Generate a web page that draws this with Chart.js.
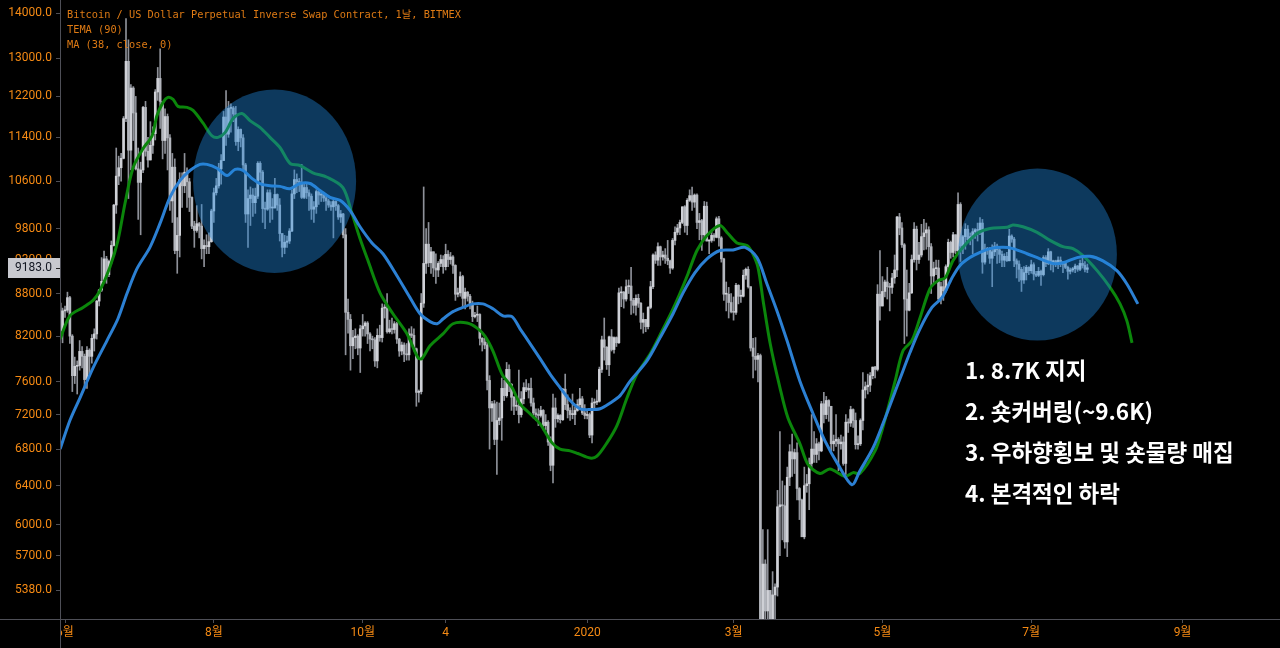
<!DOCTYPE html>
<html><head><meta charset="utf-8">
<script src="https://cdn.jsdelivr.net/npm/chart.js@4.4.1/dist/chart.umd.min.js"></script>
<style>html,body{margin:0;padding:0;background:#000;overflow:hidden}canvas{display:block}</style>
</head><body>
<canvas id="c" width="1280" height="648"></canvas>
<script>
// ---------- DATA ----------
// candle index 0 = 2019-05-30; x value = day offset from 2019-06-01
const firstCandleDay = -2;
const candleOpen = [
8660,8270,
8550,8560,8740,8200,7680,7800,7810,7995,7930,7630,8010,7930,8170,8230,8690,8850,8980,9320,9080,9280,9530,10190,10690,10840,11010,11760,12930,11160,12370,11870,
10820,10580,10800,11980,11140,10980,11250,11470,12290,12570,12100,11340,11800,11390,10260,10850,9450,9690,10630,10520,10760,10590,10320,9840,9770,9880,9840,9480,9530,9510,9590,
10090,10400,10520,10820,10970,11790,11460,11960,11970,11850,11320,11550,11390,10890,10040,10300,10360,10230,10340,10920,10760,10130,10120,10400,10140,10140,10370,10190,9720,9500,9580,
9600,9760,10380,10630,10590,10580,10320,10490,10400,10340,10120,10160,10420,10360,10370,10310,10260,10190,10160,10250,10180,9990,10040,9700,8530,8430,8070,8180,8200,8040,
8300,8340,8380,8230,8160,8150,7870,8210,8180,8590,8590,8260,8300,8290,8370,8160,8000,8080,7960,7950,8230,8210,8030,7470,7480,8660,9250,9550,9260,9430,9180,
9150,9250,9310,9200,9390,9310,9350,9220,8790,8810,9050,8730,8820,8760,8640,8470,8490,8500,8170,8120,8080,7620,7280,7330,6910,7130,7160,7520,7430,7760,
7570,7410,7300,7300,7200,7390,7530,7500,7520,7340,7220,7200,7190,7250,7070,7110,6880,6620,7280,7150,7190,7140,7510,7320,7250,7200,7200,7250,7320,7390,7220,
7190,7200,6960,7340,7350,7360,7760,8150,8050,7820,8190,8020,8180,8110,8810,8820,8720,8900,8910,8700,8630,8730,8660,8390,8430,8330,8600,8900,9380,9300,9510,
9350,9380,9330,9290,9180,9610,9740,9810,9900,10160,9850,10270,10350,10240,10360,9900,9930,9700,10170,9600,9610,9690,9660,9960,9650,9320,8790,8790,8670,
8540,8530,8920,8760,8760,9070,9160,8900,8040,7930,7890,7940,4860,5620,5200,5380,5000,5340,5410,6180,6200,6190,5830,6490,6770,6690,6760,6370,6250,5880,6400,
6420,6640,6800,6740,6860,6780,7330,7200,7370,7300,6860,6890,6910,6860,6880,6640,7110,7100,7260,7130,6850,6860,7130,7500,7540,7560,7680,7790,7760,8790,
8620,8830,8970,8900,8890,9030,9150,9990,9810,9540,8720,8560,8810,9310,9790,9310,9380,9670,9730,9780,9510,9060,9170,9180,8720,8900,8840,9200,9580,9420,9700,
9450,10200,9520,9670,9790,9620,9670,9750,9780,9770,9890,9270,9470,9480,9330,9430,9520,9460,9390,9300,9360,9290,9680,9630,9290,9240,9160,9000,9110,9190,
9140,9230,9090,9070,9130,9080,9340,9250,9430,9240,9290,9240,9300,9240,9260,9190,9130,9150,9170,9210,9160,9250,9220,9160
];
const candleHigh = [
9090,8590,
8620,8820,8760,8220,7920,7870,8140,8060,7960,8060,8030,8220,8300,8700,8860,9340,9440,9360,9300,9600,10200,11200,11050,11100,11800,13880,13400,12440,12400,12200,
11200,10940,12000,12100,11400,11700,11600,12340,12800,13200,12100,11950,11850,11450,11100,11000,9980,10750,10750,11100,10840,10650,10330,9920,10180,9900,10200,9620,9700,9730,10120,
10480,10650,10920,11080,11900,12320,12100,12050,12000,12000,11600,11560,11450,10920,10450,10500,10470,10480,10950,10950,10790,10240,10450,10450,10300,10650,10380,10300,9720,9690,9680,
9800,10450,10800,10730,10650,10900,10550,10580,10450,10380,10250,10450,10450,10420,10380,10350,10290,10250,10300,10260,10200,10100,10050,9800,8720,8500,8280,8300,8220,8350,
8500,8400,8400,8250,8200,8180,8300,8350,8650,8640,8800,8420,8450,8400,8390,8170,8120,8110,8100,8300,8330,8300,8040,7500,8800,10500,9800,9900,9500,9430,9400,
9280,9380,9370,9550,9450,9420,9370,9230,8880,9120,9070,8880,8830,8790,8690,8530,8620,8510,8180,8200,8120,7680,7360,7370,7350,7340,7650,7620,7850,7820,
7580,7420,7420,7750,7480,7590,7630,7580,7650,7400,7270,7270,7300,7260,7200,7130,6940,7450,7400,7210,7200,7520,7700,7440,7280,7450,7290,7380,7520,7420,7320,
7260,7220,7400,7390,7500,7790,8200,8450,8060,8200,8290,8190,8190,8880,8900,8830,9000,9000,9190,8730,8780,8790,8670,8520,8430,8610,8980,9400,9430,9570,9520,
9440,9480,9610,9300,9640,9830,9870,9940,10160,10180,10300,10450,10500,10380,10380,10050,9950,10250,10240,9620,9760,9720,9990,10000,9670,9330,8970,8890,8800,
8750,8950,8930,8850,9150,9180,9200,8900,8170,8180,7970,7960,5950,5660,5950,5380,5550,5440,6350,7000,6450,6400,6600,6850,6970,6800,6870,6380,6260,6600,6520,
6700,7200,7000,6920,6880,7360,7470,7420,7380,7300,6960,7200,6930,6960,6940,7200,7150,7300,7270,7220,6950,7150,7720,7600,7700,7720,7790,7800,8930,9450,
9050,9000,9190,8950,9100,9380,10000,10050,9900,9560,9150,8950,9380,9900,9840,9580,9870,9950,9890,9830,9560,9270,9300,9300,8970,9020,9230,9630,9600,9740,9700,
10400,10230,9690,9880,9850,9730,9800,9800,9890,9980,9950,9550,9500,9500,9540,9580,9550,9480,9440,9400,9420,9790,9700,9660,9320,9290,9190,9200,9220,9200,
9300,9260,9130,9190,9150,9370,9370,9480,9440,9300,9300,9350,9350,9280,9270,9210,9180,9190,9240,9220,9300,9330,9280,9240
];
const candleLow = [
8000,8110,
8460,8530,8100,7480,7580,7450,7750,7780,7520,7520,7700,7840,8000,8160,8620,8830,8970,8950,9050,9250,9520,10050,10540,10600,11000,11700,10300,10800,11340,10800,
9950,9700,10750,11050,10850,10980,11100,11350,12120,11570,11000,11100,10800,10100,9900,9400,9100,9350,10150,10400,10150,10080,9800,9500,9740,9650,9320,9200,9400,9400,9580,
9900,10360,10480,10550,10970,11250,11400,11500,11700,11250,11150,11220,10800,9900,9500,9850,10000,10050,10300,10620,9900,9800,10100,9900,9950,10140,10100,9600,9350,9400,9500,
9560,9750,10300,10400,10420,10300,10300,10300,10100,9950,9900,10050,10200,10250,10250,10100,10150,10100,9650,10100,9950,9900,9650,7950,8240,7750,7900,8030,7950,7720,
8200,8200,8100,8000,8030,7800,7780,8130,8120,8450,8240,8240,8230,8240,8100,7930,7950,7860,7880,7880,8180,8000,7300,7350,7450,8600,9100,9200,9100,9050,8950,
9050,9200,9100,9150,9200,9240,9100,8700,8750,8760,8600,8580,8690,8580,8400,8450,8400,8080,8000,8030,7500,6800,7120,6850,6520,7080,6900,7370,7410,7480,
7250,7200,7250,7100,7170,7330,7480,7400,7300,7160,7130,7070,7170,7020,7020,6840,6560,6430,7050,7110,7100,7130,7260,7160,7130,7150,7080,7240,7290,7200,7150,
7150,6930,6870,7270,7320,7350,7720,7880,7760,7680,8000,7970,8060,8100,8610,8590,8690,8800,8500,8520,8490,8600,8300,8240,8260,8300,8580,8870,9250,9220,9220,
9300,9250,9230,9100,9160,9540,9700,9700,9880,9740,9700,10250,10100,10150,9800,9620,9450,9620,9600,9400,9580,9600,9650,9520,9270,8700,8550,8450,8520,
8420,8500,8650,8670,8750,9010,8880,8000,7650,7750,7600,4400,3600,5060,5120,4450,4950,5000,5330,5700,5850,5770,5690,6400,6500,6530,6250,6050,5880,5860,6330,
6150,6570,6650,6650,6680,6770,7100,7150,7120,6750,6780,6830,6560,6800,6620,6480,6990,7060,7050,6800,6800,6840,7020,7400,7450,7480,7640,7650,7740,8420,
8620,8750,8720,8550,8800,8950,9050,9700,9500,8100,8200,8550,8800,9270,9150,9250,9350,9460,9470,9300,8800,8950,9080,8700,8650,8700,8820,9110,9330,9350,9400,
9420,9280,9400,9470,9580,9540,9400,9640,9600,9700,9100,9240,9390,9250,8900,9370,9250,9260,9200,9200,9280,9290,9580,9200,9030,8980,8830,8950,9000,9080,
9100,9000,9050,9050,8920,9060,9200,9230,9150,9120,9200,9170,9200,9110,9170,9010,9090,9120,9110,9130,9140,9180,9120,9110
];
const candleClose = [
8270,8550,
8560,8740,8200,7680,7800,7810,7995,7930,7630,8010,7930,8170,8230,8690,8850,8980,9320,9080,9280,9530,10190,10690,10840,11010,11760,12930,11160,12370,11870,10820,
10580,10800,11980,11140,10980,11250,11470,12290,12570,12100,11340,11800,11390,10260,10850,9450,9690,10630,10520,10760,10590,10320,9840,9770,9880,9840,9480,9530,9510,9590,10090,
10400,10520,10820,10970,11790,11460,11960,11970,11850,11320,11550,11390,10890,10040,10300,10360,10230,10340,10920,10760,10130,10120,10400,10140,10140,10370,10190,9720,9500,9580,9600,
9760,10380,10630,10590,10580,10320,10490,10400,10340,10120,10160,10420,10360,10370,10310,10260,10190,10160,10250,10180,9990,10040,9700,8530,8430,8070,8180,8200,8040,8300,
8340,8380,8230,8160,8150,7870,8210,8180,8590,8590,8260,8300,8290,8370,8160,8000,8080,7960,7950,8230,8210,8030,7470,7480,8660,9250,9550,9260,9430,9180,9150,
9250,9310,9200,9390,9310,9350,9220,8790,8810,9050,8730,8820,8760,8640,8470,8490,8500,8170,8120,8080,7620,7280,7330,6910,7130,7160,7520,7430,7760,7570,
7410,7300,7300,7200,7390,7530,7500,7520,7340,7220,7200,7190,7250,7070,7110,6880,6620,7280,7150,7190,7140,7510,7320,7250,7200,7200,7250,7320,7390,7220,7190,
7200,6960,7340,7350,7360,7760,8150,8050,7820,8190,8020,8180,8110,8810,8820,8720,8900,8910,8700,8630,8730,8660,8390,8430,8330,8600,8900,9380,9300,9510,9350,
9380,9330,9290,9180,9610,9740,9810,9900,10160,9850,10270,10350,10240,10360,9900,9930,9700,10170,9600,9610,9690,9660,9960,9650,9320,8790,8790,8670,8540,
8530,8920,8760,8760,9070,9160,8900,8040,7930,7890,7940,4860,5620,5200,5380,5000,5340,5410,6180,6200,6190,5830,6490,6770,6690,6760,6370,6250,5880,6400,6420,
6640,6800,6740,6860,6780,7330,7200,7370,7300,6860,6890,6910,6860,6880,6640,7110,7100,7260,7130,6850,6860,7130,7500,7540,7560,7680,7790,7760,8790,8620,
8830,8970,8900,8890,9030,9150,9990,9810,9540,8720,8560,8810,9310,9790,9310,9380,9670,9730,9780,9510,9060,9170,9180,8720,8900,8840,9200,9580,9420,9700,9450,
10200,9520,9670,9790,9620,9670,9750,9780,9770,9890,9270,9470,9480,9330,9430,9520,9460,9390,9300,9360,9290,9680,9630,9290,9240,9160,9000,9110,9190,9140,
9230,9090,9070,9130,9080,9340,9250,9430,9240,9290,9240,9300,9240,9260,9190,9130,9150,9170,9210,9160,9250,9220,9160,9183
];

// TEMA (90) line (day offset, price)
const temaDays = [-2,2,7.4,11.5,14.3,18.4,21.7,24.6,27.9,32,35.7,37.7,40.2,42.2,44.3,46.3,50,52.5,56.6,60.2,62.7,65.6,68.9,72.5,75.8,79.9,84,88.1,92.2,96.3,101.6,107.4,113.9,117.6,120.9,124.2,129.1,134.4,140.2,144.7,146.3,149.6,154.9,159,164.8,168.9,172.1,175.4,179.1,183.2,186.5,190.6,194.7,199.6,202.9,207,210.2,215.2,218,222.1,226.2,230.3,234.4,239.8,244.7,248.8,252,255.3,259,263.1,268.4,271.7,275.4,279.5,281.6,284,286.1,289,293,296.3,301.2,304.5,309.4,313.5,319.7,323,325.8,332,334.8,340.2,343.4,347.1,350.4,354.5,357.8,360.7,363.9,368,373.8,379.1,386.1,388.5,392.6,398.4,403.7,409,413.1,417.2,423,428.3,432.4,435.2,437.3];
const temaValues = [8160,8480,8600,8700,8840,9190,9610,10220,10840,11190,11430,11820,12080,12180,12140,12000,11980,11920,11670,11430,11400,11490,11760,11860,11720,11590,11400,11210,10920,10880,10750,10670,10490,10050,9640,9290,8810,8510,8230,7910,7900,8070,8230,8370,8380,8310,8200,8000,7700,7530,7330,7210,7090,6870,6800,6780,6750,6700,6720,6870,7070,7400,7700,7960,8270,8550,8800,9090,9450,9690,9850,9720,9570,9530,9420,9190,8700,8100,7530,7160,6860,6630,6530,6580,6500,6540,6530,6780,7010,7610,8000,8140,8450,8870,8990,9030,9290,9500,9720,9800,9820,9860,9830,9740,9610,9510,9480,9370,9140,8890,8650,8410,8110];

// MA (38, close, 0) line
const maDays = [-2,2,6.1,11.5,17.2,21.7,25.4,29.5,34.8,38.9,43,47.1,51.2,55.3,58.2,62.3,66.4,69.7,73,76.6,79.9,84,88.1,92.2,96.3,100.4,104.5,108.6,112.7,116.8,120.9,125.8,130.3,136.1,141.4,145.5,149.6,152.5,155,159,163.1,167.2,171.3,175.4,179.5,183.2,186.5,190.6,194.7,198.8,202.9,207,211.1,215.2,219.3,223.4,227.5,231.6,238.5,243.9,249.2,253.3,258.2,263.1,268.4,273.8,278.7,283.6,287.7,291.8,295.9,301.2,306.6,311.5,316.8,322.5,325.8,331.1,335.2,342.2,346.3,350.4,355.3,359.4,363.5,366.8,370.9,375,379.1,384.4,388.5,394.3,399.6,404.9,409,414.8,420.1,425.4,431.1,435.2,439.7];
const maValues = [6800,7130,7400,7780,8140,8440,8800,9170,9500,9880,10320,10610,10790,10900,10900,10830,10700,10810,10790,10650,10560,10520,10510,10470,10560,10560,10440,10320,10270,10100,9830,9570,9400,9060,8740,8510,8400,8370,8440,8540,8600,8650,8650,8580,8480,8470,8300,8100,7900,7700,7530,7370,7270,7260,7270,7340,7430,7610,7870,8180,8510,8810,9110,9320,9450,9460,9500,9340,8940,8550,8140,7610,7210,6890,6630,6410,6560,6810,7090,7640,7980,8300,8600,8740,9030,9220,9340,9420,9480,9500,9480,9400,9320,9250,9260,9340,9360,9290,9140,8940,8650];

// axes
const xTickDays = [0, 61, 122, 156, 214, 274, 335, 396, 458];
const xTickLabels = ['6월', '8월', '10월', '4', '2020', '3월', '5월', '7월', '9월'];
const yTickValues = [14000, 13000, 12200, 11400, 10600, 9800, 9300, 8800, 8200, 7600, 7200, 6800, 6400, 6000, 5700, 5380];
const xRange = [-2.05, 497.95];
const yRange = [5131, 14314];
const lastPrice = 9183;

// texts
const headerLines = ['Bitcoin / US Dollar Perpetual Inverse Swap Contract, 1날, BITMEX', 'TEMA (90)', 'MA (38, close, 0)'];
const noteLines = ['1. 8.7K 지지', '2. 숏커버링(~9.6K)', '3. 우하향횡보 및 숏물량 매집', '4. 본격적인 하락'];

// highlighted zones (ellipses) in data coordinates
const zoneDayFrom = [52.5, 366.0];
const zoneDayTo = [119.3, 431.1];
const zonePriceTop = [12343, 10826];
const zonePriceBottom = [9106, 8140];

// ---------- STYLE ----------
const ORANGE = '#f58a14';
const HEADER_ORANGE = '#de7a14';
const AXIS_LINE = '#4e4f57';
const UP_BODY = '#cfd1d7';
const DOWN_BODY = '#b3b6bd';
const WICK = '#8e9199';

const wickData = candleHigh.map((h, i) => ({ x: firstCandleDay + i, y: [candleLow[i], h] }));
const bodyData = candleClose.map((c, i) => ({ x: firstCandleDay + i, y: [candleOpen[i], c] }));
const bodyColors = candleClose.map((c, i) => c >= candleOpen[i] ? UP_BODY : DOWN_BODY);

const overlay = {
  id: 'overlay',
  afterDatasetsDraw(chart) {
    const ctx = chart.ctx, xs = chart.scales.x, ys = chart.scales.y;
    ctx.save();
    ctx.fillStyle = 'rgba(30,136,222,0.42)';
    for (let i = 0; i < zoneDayFrom.length; i++) {
      const x0 = xs.getPixelForValue(zoneDayFrom[i]), x1 = xs.getPixelForValue(zoneDayTo[i]);
      const y0 = ys.getPixelForValue(zonePriceTop[i]), y1 = ys.getPixelForValue(zonePriceBottom[i]);
      ctx.beginPath();
      ctx.ellipse((x0 + x1) / 2, (y0 + y1) / 2, (x1 - x0) / 2, (y1 - y0) / 2, 0, 0, Math.PI * 2);
      ctx.fill();
    }
    ctx.restore();
  },
  afterDraw(chart) {
    const ctx = chart.ctx, ys = chart.scales.y, area = chart.chartArea;
    ctx.save();
    // hide the part of the first x label left of the price axis
    ctx.fillStyle = '#000';
    ctx.fillRect(0, area.bottom + 1, area.left, chart.height - area.bottom);
    // axis lines
    ctx.strokeStyle = AXIS_LINE; ctx.lineWidth = 1;
    ctx.beginPath();
    ctx.moveTo(Math.round(area.left) + 0.5, 0); ctx.lineTo(Math.round(area.left) + 0.5, chart.height);
    ctx.moveTo(0, Math.round(area.bottom) + 0.5); ctx.lineTo(chart.width, Math.round(area.bottom) + 0.5);
    ctx.stroke();
    // last price box
    const py = ys.getPixelForValue(lastPrice);
    ctx.fillStyle = '#c8c9cf';
    ctx.fillRect(8, Math.round(py) - 10, area.left - 8, 20);
    ctx.strokeStyle = '#222'; ctx.beginPath();
    ctx.moveTo(area.left - 4, Math.round(py) + 0.5); ctx.lineTo(area.left, Math.round(py) + 0.5); ctx.stroke();
    ctx.fillStyle = '#131722';
    ctx.font = '12px Roboto';
    ctx.textAlign = 'right'; ctx.textBaseline = 'middle';
    ctx.fillText(lastPrice.toFixed(1), area.left - 8, py);
    // header
    ctx.fillStyle = HEADER_ORANGE;
    ctx.font = '10.3px "DejaVu Sans Mono", "Noto Sans CJK KR", monospace';
    ctx.textAlign = 'left';
    headerLines.forEach((t, i) => ctx.fillText(t, 67, 15.5 + i * 14.7));
    // notes
    ctx.fillStyle = '#ffffff';
    ctx.font = 'bold 22.5px "Noto Sans CJK KR", sans-serif';
    noteLines.forEach((t, i) => ctx.fillText(t, 965, 370 + i * 41.3));
    ctx.restore();
  }
};

new Chart(document.getElementById('c'), {
  type: 'bar',
  data: {
    datasets: [
      { type: 'line', label: 'TEMA', data: temaDays.map((d, i) => ({ x: d, y: temaValues[i] })),
        borderColor: '#0b860b', borderWidth: 3, pointRadius: 0, tension: 0.3, fill: false, order: 1 },
      { type: 'line', label: 'MA', data: maDays.map((d, i) => ({ x: d, y: maValues[i] })),
        borderColor: '#2c80d3', borderWidth: 3, pointRadius: 0, tension: 0.3, fill: false, order: 0 },
      { type: 'bar', label: 'bodies', data: bodyData, backgroundColor: bodyColors, barThickness: 2,
        minBarLength: 1, grouped: false, borderWidth: 0, order: 5 },
      { type: 'bar', label: 'wicks', data: wickData, backgroundColor: WICK, barThickness: 1,
        minBarLength: 1, grouped: false, borderWidth: 0, order: 6 }
    ]
  },
  options: {
    responsive: false, animation: false, devicePixelRatio: 1,
    layout: { padding: 0 },
    plugins: { legend: { display: false }, tooltip: { enabled: false } },
    scales: {
      x: {
        type: 'linear', min: xRange[0], max: xRange[1], bounds: 'data', offset: false,
        afterBuildTicks: s => { s.ticks = xTickDays.map(v => ({ value: v })); },
        afterFit: s => { s.height = 29; s.paddingLeft = 0; s.paddingRight = 0; },
        ticks: { autoSkip: false, maxRotation: 0, color: ORANGE, padding: 3,
          font: { family: 'Roboto, "Noto Sans CJK KR"', size: 12 },
          callback: (v, i) => xTickLabels[i] },
        grid: { display: true, drawOnChartArea: false, drawTicks: true, tickLength: 4, color: AXIS_LINE, offset: false },
        border: { display: false }
      },
      y: {
        type: 'logarithmic', position: 'left', min: yRange[0], max: yRange[1], bounds: 'data',
        afterBuildTicks: s => { s.ticks = yTickValues.map(v => ({ value: v })); },
        afterFit: s => { s.width = 60; s.paddingTop = 0; s.paddingBottom = 0; },
        ticks: { autoSkip: false, color: ORANGE, padding: 4,
          font: { family: 'Roboto', size: 12 },
          callback: v => Number(v).toFixed(1) },
        grid: { display: true, drawOnChartArea: false, drawTicks: true, tickLength: 4, color: AXIS_LINE },
        border: { display: false }
      }
    }
  },
  plugins: [overlay]
});
</script>
</body></html>
